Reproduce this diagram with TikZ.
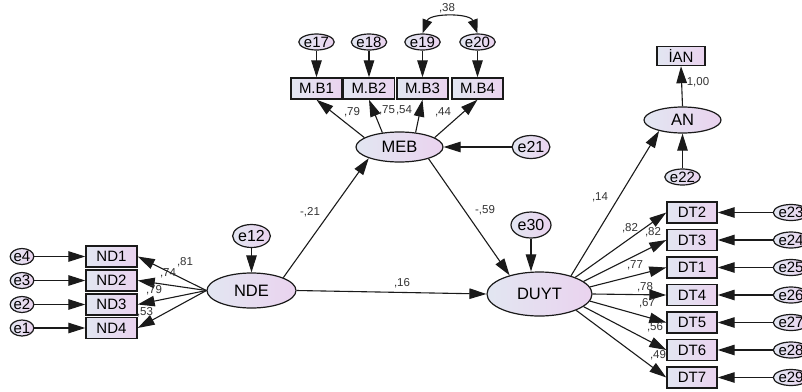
\documentclass[tikz,border=0pt]{standalone}
\usepackage{fontspec}
\setmainfont{Liberation Sans}
\usetikzlibrary{arrows.meta,shapes.geometric,calc}
\definecolor{nodeL}{HTML}{E2E6F1}
\definecolor{nodeR}{HTML}{EAD3EF}
\definecolor{edgec}{HTML}{1A1A1A}
\definecolor{labc}{HTML}{333333}
\tikzset{
  obs/.style={draw=edgec,line width=1.4pt,rectangle,left color=nodeL,right color=nodeR,minimum width=51pt,minimum height=21pt,inner sep=0pt,font=\fontsize{15}{15}\selectfont},
  lat/.style={draw=edgec,line width=1.2pt,ellipse,left color=nodeL,right color=nodeR,inner sep=0pt,font=\fontsize{16.5}{16.5}\selectfont},
  err/.style={draw=edgec,line width=1.2pt,ellipse,left color=nodeL,right color=nodeR,inner sep=0pt,minimum width=22pt,minimum height=16pt,font=\fontsize{15}{15}\selectfont},
  errb/.style={err,minimum width=33pt,minimum height=23pt,font=\fontsize{16}{16}\selectfont},
  tip/.style={Triangle[length=17pt,width=10.5pt]},
  arr/.style={draw=edgec,line width=1.1pt,-{Triangle[length=17pt,width=10.5pt]}},
  lbl/.style={text=labc,inner sep=0pt,font=\fontsize{11.5}{11.5}\selectfont}
}
\begin{document}
\begin{tikzpicture}[x=1pt,y=-1pt]
\useasboundingbox (0,0) rectangle (802,391);
\clip (0,0) rectangle (802,391);
% latent variables
\node[lat,minimum width=87pt,minimum height=30pt] (MEB) at (399.5,147) {MEB};
\node[lat,minimum width=89pt,minimum height=35pt] (NDE) at (251.5,290.5) {NDE};
\node[lat,minimum width=105pt,minimum height=44pt] (DUYT) at (539.5,294) {DUYT};
\node[lat,minimum width=77pt,minimum height=26pt] (AN) at (682.5,120) {AN};
% observed
\node[obs] (MB1) at (316.5,88.5) {M.B1};
\node[obs] (MB2) at (369,88.5) {M.B2};
\node[obs] (MB3) at (422.5,88.5) {M.B3};
\node[obs] (MB4) at (477.5,88.5) {M.B4};
\node[obs] (ND1) at (111.5,256.5) {ND1};
\node[obs] (ND2) at (111.5,280.5) {ND2};
\node[obs] (ND3) at (111.5,304.5) {ND3};
\node[obs] (ND4) at (111.5,328) {ND4};
\node[obs,minimum width=50pt] (DT2) at (692,212.5) {DT2};
\node[obs,minimum width=50pt] (DT3) at (692,240) {DT3};
\node[obs,minimum width=50pt] (DT1) at (692,267.5) {DT1};
\node[obs,minimum width=50pt] (DT4) at (692,295) {DT4};
\node[obs,minimum width=50pt] (DT5) at (692,322.5) {DT5};
\node[obs,minimum width=50pt] (DT6) at (692,350) {DT6};
\node[obs,minimum width=50pt] (DT7) at (692,377.5) {DT7};
\node[obs,minimum width=48pt,minimum height=19pt] (IAN) at (681,56) {İAN};
% errors
\node[err] (e17) at (316.5,42) {e17};
\node[err] (e18) at (369,42) {e18};
\node[err] (e19) at (422.5,42) {e19};
\node[err] (e20) at (477.5,42) {e20};
\node[errb] (e21) at (531,147) {e21};
\node[errb] (e12) at (251.5,236) {e12};
\node[errb,minimum width=40pt,minimum height=26pt] (e30) at (531,225) {e30};
\node[err,minimum width=27pt] (e22) at (682.5,177) {e22};
\node[err] (e4) at (22,256.5) {e4};
\node[err] (e3) at (22,280.5) {e3};
\node[err] (e2) at (22,304.5) {e2};
\node[err] (e1) at (22,328) {e1};
\node[err] (e23) at (791,212.5) {e23};
\node[err] (e24) at (791,240) {e24};
\node[err] (e25) at (791,267.5) {e25};
\node[err] (e26) at (791,295) {e26};
\node[err] (e27) at (791,322.5) {e27};
\node[err] (e28) at (791,350) {e28};
\node[err] (e29) at (791,377.5) {e29};
% error arrows
\foreach \e/\b in {e17/MB1,e18/MB2,e19/MB3,e20/MB4}{\draw[arr] (\e.south) -- (\b.north);}
\foreach \e/\b in {e4/ND1,e3/ND2,e2/ND3,e1/ND4}{\draw[arr] (\e.east) -- (\b.west);}
\foreach \e/\b in {e23/DT2,e24/DT3,e25/DT1,e26/DT4,e27/DT5,e28/DT6,e29/DT7}{\draw[arr] (\e.west) -- (\b.east);}
\draw[arr] (e21.west) -- (MEB.east);
\draw[arr] (e12.south) -- (NDE.north);
\draw[arr] (e30.south) -- (e30.south |- DUYT.north);
\draw[arr] (e22.north) -- (AN.south);
% covariance
\draw[draw=edgec,line width=1.1pt,{Triangle[length=14pt,width=10pt]}-{Triangle[length=14pt,width=10pt]}] (e19.north) .. controls (430,13) and (470,13) .. (e20.north);
% loadings
\draw[arr] (MEB.165) -- (MB1.south);
\draw[arr] (MEB.140) -- (MB2.south);
\draw[arr] (MEB.42) -- (MB3.south);
\draw[arr] (MEB.15) -- (MB4.south);
\foreach \b in {ND1,ND2,ND3,ND4}{\draw[arr] (NDE.west) -- (\b.east);}
\draw[arr] (DUYT.25) -- (DT2.west);
\draw[arr] (DUYT.16) -- (DT3.west);
\draw[arr] (DUYT.8) -- (DT1.west);
\draw[arr] (DUYT.0) -- (DT4.west);
\draw[arr] (DUYT.-8) -- (DT5.west);
\draw[arr] (DUYT.-16) -- (DT6.west);
\draw[arr] (DUYT.-24) -- (DT7.west);
\draw[arr] (AN.north) -- (IAN.south);
% structural paths
\draw[arr] (NDE.22) -- (MEB.200);
\draw[arr] (MEB.-22) -- (DUYT.148);
\draw[arr] (NDE.east) -- (DUYT.west);
\draw[arr] (DUYT.30) -- (AN.205);
% labels
\node[lbl] (l38) at (447,8) {,38};
\node[lbl] (l79a) at (352,112) {,79};
\node[lbl] (l75) at (387,110) {,75};
\node[lbl] (l54) at (404,110) {,54};
\node[lbl] (l44) at (443,112) {,44};
\node[lbl] (l21) at (310,212) {-,21};
\node[lbl] (l59) at (485,210) {-,59};
\node[lbl] (l16) at (402,283) {,16};
\node[lbl] (l81) at (185,262) {,81};
\node[lbl] (l74) at (168,273) {,74};
\node[lbl] (l79b) at (154,290) {,79};
\node[lbl] (l53) at (145,312) {,53};
\node[lbl] (l14) at (600,197) {,14};
\node[lbl] (l82a) at (630,228) {,82};
\node[lbl] (l82b) at (653,232) {,82};
\node[lbl] (l77) at (635,265) {,77};
\node[lbl] (l78) at (645,287) {,78};
\node[lbl] (l67) at (647,303) {,67};
\node[lbl] (l56) at (655,327) {,56};
\node[lbl] (l49) at (658,355) {,49};
\node[lbl] (l100) at (698,82) {1,00};
\end{tikzpicture}
\end{document}
